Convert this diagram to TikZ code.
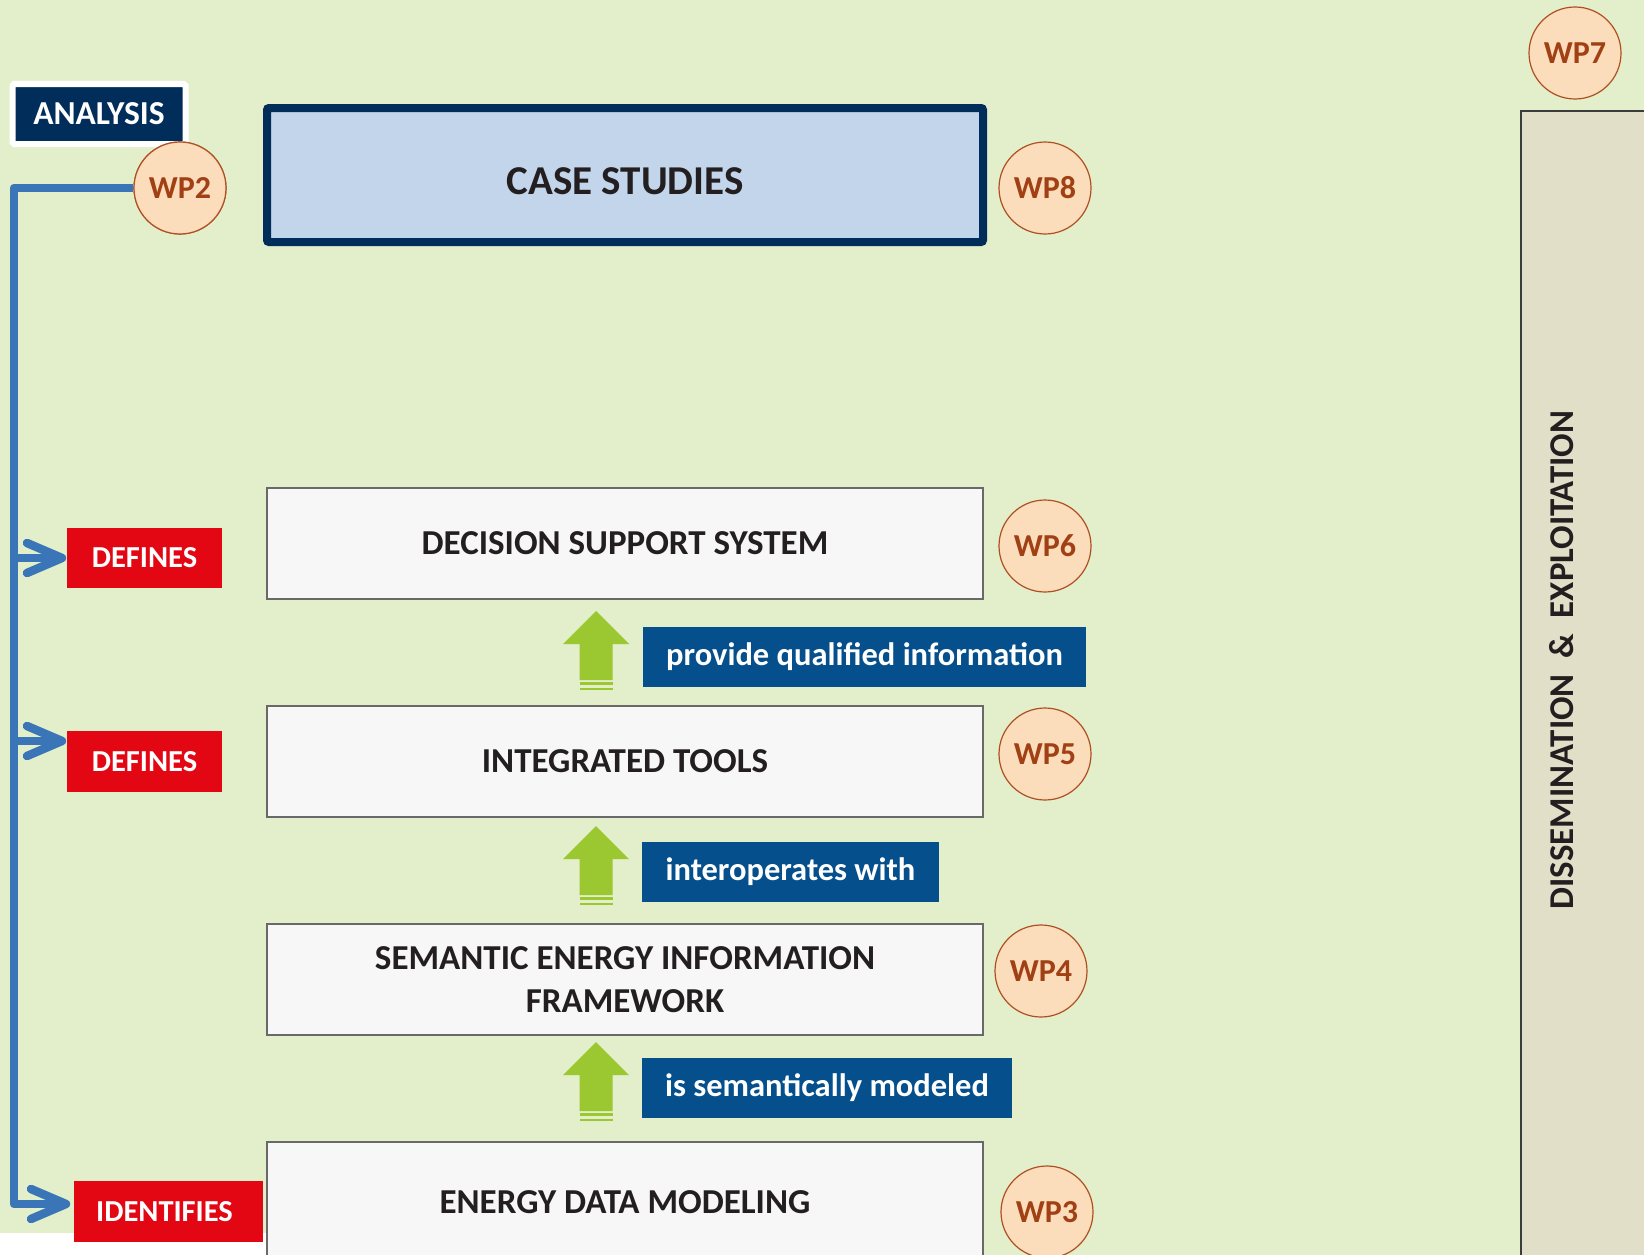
\documentclass[tikz,border=0pt]{standalone}
\usepackage{fontspec}
\setmainfont{Carlito}
\definecolor{bggreen}{RGB}{226,239,202}
\definecolor{navy}{RGB}{0,45,90}
\definecolor{casefill}{RGB}{195,213,235}
\definecolor{boxfill}{RGB}{247,247,247}
\definecolor{boxline}{RGB}{105,105,105}
\definecolor{wpfill}{RGB}{251,220,187}
\definecolor{wpline}{RGB}{175,80,35}
\definecolor{wptext}{RGB}{160,64,20}
\definecolor{labelblue}{RGB}{5,80,140}
\definecolor{defred}{RGB}{227,6,19}
\definecolor{linkblue}{RGB}{58,117,184}
\definecolor{arrowgreen}{RGB}{155,199,48}
\definecolor{dissfill}{RGB}{225,223,199}
\definecolor{dissline}{RGB}{60,60,60}
\definecolor{txt}{RGB}{35,31,32}
\begin{document}
\begin{tikzpicture}[x=1pt,y=-1pt,
  wp/.style={circle, minimum size=92pt, inner sep=0pt, fill=wpfill, draw=wpline, line width=1.2pt, text=wptext, font=\fontsize{32}{38}\selectfont\bfseries},
  stagebox/.style={rectangle, minimum width=716pt, minimum height=111pt, inner sep=0pt, fill=boxfill, draw=boxline, line width=1.5pt, text=txt, font=\fontsize{35}{43}\selectfont\bfseries, align=center},
  tag/.style={rectangle, fill=defred, text=white, inner sep=0pt, font=\fontsize{30.5}{36}\selectfont\bfseries},
  lbl/.style={rectangle, fill=labelblue, text=white, inner sep=0pt, minimum height=60pt, font=\fontsize{32.5}{38}\selectfont\bfseries},
  link/.style={draw=linkblue, line width=8.5pt, line join=round},
  uparrow/.pic={
    \fill[arrowgreen] (0,0) -- (33,33) -- (16.5,33) -- (16.5,69) -- (-16.5,69) -- (-16.5,33) -- (-33,33) -- cycle;
    \fill[arrowgreen] (-16.5,71) rectangle (16.5,74);
    \fill[arrowgreen] (-16.5,76.5) rectangle (16.5,79);
  }]
\useasboundingbox (0,0) rectangle (1644,1255);
\clip (0,0) rectangle (1644,1255);
\fill[bggreen] (0,0) rectangle (1644,1255);
\fill[white] (0,1233) rectangle (267,1255);

% dissemination column
\filldraw[fill=dissfill, draw=dissline, line width=2pt] (1521,111) rectangle (1670,1280);
\node[rotate=90, text=txt, font=\fontsize{34.8}{40}\selectfont\bfseries] (diss) at (1562,660) {DISSEMINATION~~\&~~EXPLOITATION};

% boxes
\node[draw=navy, line width=8pt, fill=casefill, rounded corners=2pt, minimum width=716pt, minimum height=134pt, inner sep=0pt, text=txt, text height=38pt, text depth=0pt, font=\fontsize{41}{48}\selectfont\bfseries] (case) at (625,175) {CASE STUDIES};
\node[stagebox] (dss) at (625,543.5) {DECISION SUPPORT SYSTEM};
\node[stagebox] (it) at (625,761.5) {INTEGRATED TOOLS};
\node[stagebox] (sem) at (625,979.5) {SEMANTIC ENERGY INFORMATION\\FRAMEWORK};
\node[stagebox, minimum height=120pt] (edm) at (625,1202) {ENERGY DATA MODELING};

% green arrows and labels
\pic at (596,611) {uparrow};
\pic at (596,826) {uparrow};
\pic at (596,1042) {uparrow};
\node[lbl, minimum width=443pt] (l1) at (864.5,657) {provide qualified information};
\node[lbl, minimum width=297pt] (l2) at (790.5,872) {interoperates with};
\node[lbl, minimum width=370pt] (l3) at (827,1088) {is semantically modeled};

% analysis
\node[fill=navy, draw=white, line width=6pt, rounded corners=1.5pt, minimum width=173pt, minimum height=60pt, inner sep=0pt, text=white, font=\fontsize{33.5}{38}\selectfont\bfseries] (analysis) at (99,114) {ANALYSIS};

% tags
\node[tag, minimum width=155pt, minimum height=60pt] (def1) at (144.5,558) {DEFINES};
\node[tag, minimum width=155pt, minimum height=61pt] (def2) at (144.5,761.5) {DEFINES};
\node[tag, minimum width=189pt, minimum height=61pt, text width=189pt, align=center] (ident) at (168.5,1211.5) {\hspace*{-8pt}IDENTIFIES};

% blue connector
\coordinate (corner) at (14,188);
\coordinate (j1) at (14,558);
\coordinate (j2) at (14,741);
\coordinate (t1) at (62,558);
\coordinate (t2) at (62,741);
\coordinate (t3) at (66,1204);
\node[wp] (wp2) at (180,188) {WP2};
\draw[link] (wp2.west) -- (corner) |- (t3);
\draw[link] (j1) -- (t1);
\draw[link] (j2) -- (t2);
\draw[link, line cap=round] (t1) ++(-35,-15) -- (t1) -- ++(-35,15);
\draw[link, line cap=round] (t2) ++(-35,-15) -- (t2) -- ++(-35,15);
\draw[link, line cap=round] (t3) ++(-35,-15) -- (t3) -- ++(-35,15);
\node[wp] at (180,188) {WP2};

% WP circles
\node[wp] (wp8) at (1045,188) {WP8};
\node[wp] (wp6) at (1045,546) {WP6};
\node[wp] (wp5) at (1045,754) {WP5};
\node[wp] (wp4) at (1041,971) {WP4};
\node[wp] (wp3) at (1047,1212) {WP3};
\node[wp] (wp7) at (1575,53) {WP7};
\end{tikzpicture}
\end{document}
